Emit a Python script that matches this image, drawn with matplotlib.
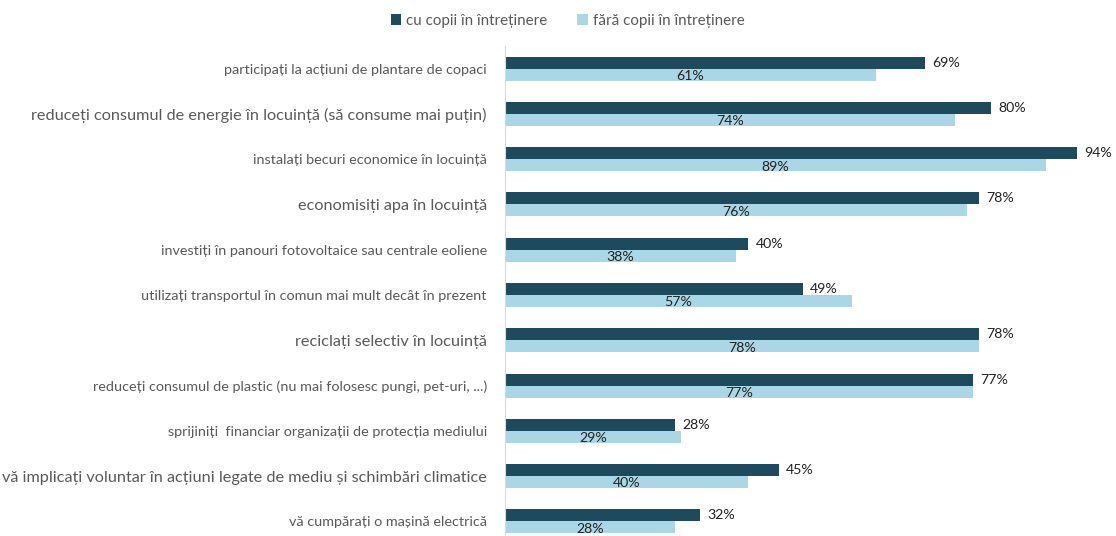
import matplotlib.pyplot as plt
import numpy as np

categories = [
    "participați la acțiuni de plantare de copaci",
    "reduceți consumul de energie în locuință (să consume mai puțin)",
    "instalați becuri economice în locuință",
    "economisiți apa în locuință",
    "investiți în panouri fotovoltaice sau centrale eoliene",
    "utilizați transportul în comun mai mult decât în prezent",
    "reciclați selectiv în locuință",
    "reduceți consumul de plastic (nu mai folosesc pungi, pet-uri, ...)",
    "sprijiniți  financiar organizații de protecția mediului",
    "vă implicați voluntar în acțiuni legate de mediu și schimbări climatice",
    "vă cumpărați o mașină electrică",
]
with_children = [69, 80, 94, 78, 40, 49, 78, 77, 28, 45, 32]
without_children = [61, 74, 89, 76, 38, 57, 78, 77, 29, 40, 28]
big_label = [False, True, False, True, False, False, True, False, False, True, False]

dark = '#1d4a5c'
light = '#abd6e6'
grey = '#595959'

plt.rcParams['font.family'] = ['Lato', 'DejaVu Sans']

fig = plt.figure(figsize=(11.16, 5.36), dpi=100)
ax = fig.add_axes([505 / 1116, -8 / 536, (1113 - 505) / 1116, (544 - 46) / 536])

y = np.arange(len(categories))
h = 0.265
ax.barh(y - h / 2, with_children, h, color=dark, label='cu copii în întreținere')
ax.barh(y + h / 2, without_children, h, color=light, label='fără copii în întreținere')

for i in range(len(categories)):
    ax.text(with_children[i] + 1.2, y[i] - h / 2, f'{with_children[i]}%',
            ha='left', va='center', fontsize=10.2, color='#222222')
    ax.text(without_children[i] / 2, y[i] + h / 2 + 0.03, f'{without_children[i]}%',
            ha='center', va='center', fontsize=10.2, color='#222222')

ax.set_xlim(0, 100)
ax.set_ylim(len(categories) - 0.5, -0.5)
ax.set_yticks(y)
ax.set_yticklabels(categories, color=grey)
for lbl, big in zip(ax.get_yticklabels(), big_label):
    lbl.set_fontsize(11.7 if big else 10.4)
ax.tick_params(axis='y', length=0, pad=13)
ax.set_xticks([])
for s in ['top', 'right', 'bottom']:
    ax.spines[s].set_visible(False)
ax.spines['left'].set_color('#d9d9d9')

fig.legend(loc='upper center', bbox_to_anchor=(0.5085, 1.0), ncol=2, frameon=False,
           fontsize=10.9, handlelength=0.7, handleheight=0.7, handletextpad=0.3,
           columnspacing=2.0, labelcolor=grey)

fig.savefig('out.png', dpi=100)
